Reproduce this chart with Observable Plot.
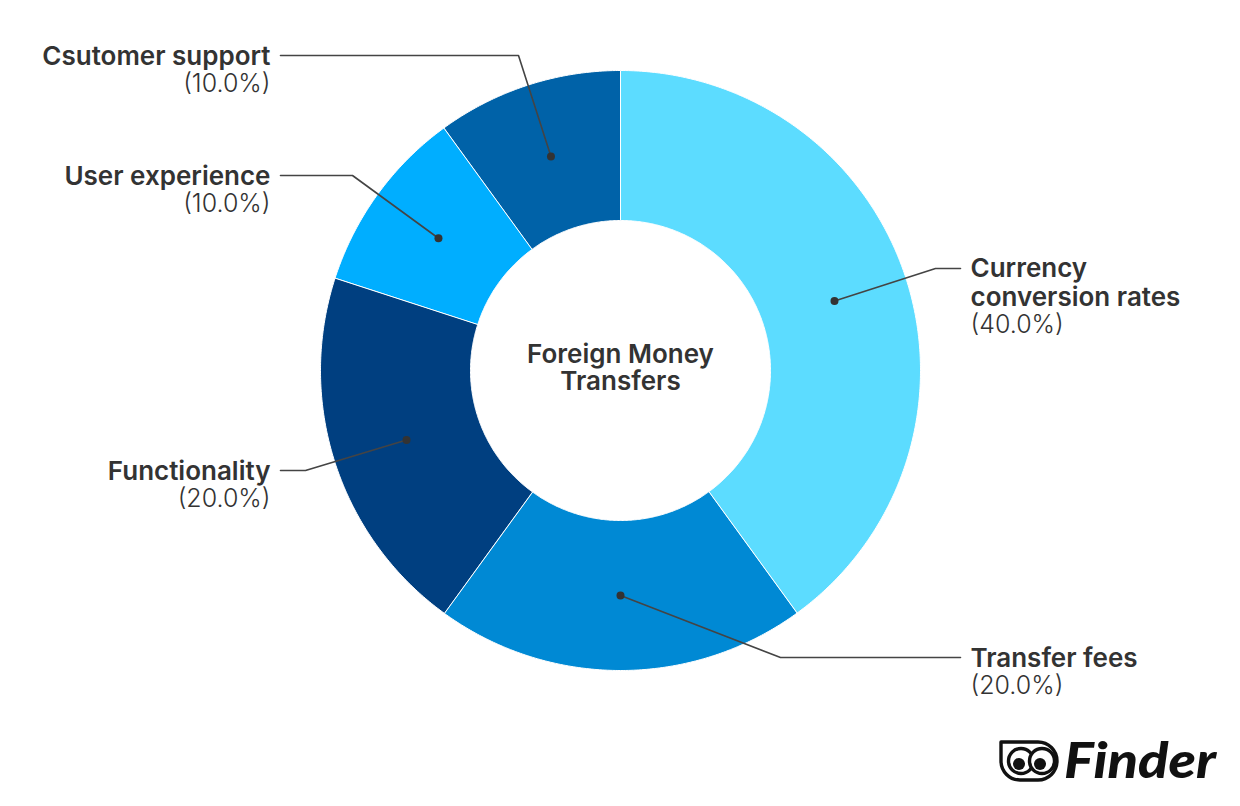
<!DOCTYPE html>
<html>
<head>
<meta charset="utf-8">
<script src="https://cdn.jsdelivr.net/npm/d3@7"></script>
<script src="https://cdn.jsdelivr.net/npm/@observablehq/plot@0.6"></script>
<style>
  html, body { margin: 0; padding: 0; background: #fff; }
  #wrap { position: relative; width: 1240px; height: 806px; overflow: hidden; }
  #logo { position: absolute; left: 996px; top: 734px; overflow: visible; }
  #logoText { position: absolute; left: 1064px; top: 731px; font-family: Lato, sans-serif; font-weight: 900; font-style: italic; font-size: 50px; line-height: 56px; color: #111; letter-spacing: 0px; transform: scaleX(1.12); transform-origin: left top; white-space: nowrap; }
</style>
</head>
<body>
<div id="wrap">
  <div id="chart"></div>
  <svg id="logo" width="62" height="52" viewBox="0 0 62 52">
    <path d="M5 8 H42 A19 19 0 0 1 42 46 H24 A19 19 0 0 1 5 27 Z" fill="#fff" stroke="#111" stroke-width="3.4" stroke-linejoin="round"/>
    <circle cx="25" cy="27" r="12.5" fill="#fff" stroke="#111" stroke-width="3.4"/>
    <circle cx="46" cy="27" r="12.5" fill="#fff" stroke="#111" stroke-width="3.4"/>
    <circle cx="23" cy="30" r="6" fill="#111"/>
    <circle cx="44" cy="30" r="6" fill="#111"/>
  </svg>
  <div id="logoText">Finder</div>
</div>
<script>
// ---- data ----
const categories = ["Currency conversion rates", "Transfer fees", "Functionality", "User experience", "Csutomer support"];
const shares = [40, 20, 20, 10, 10];
const labelNames = ["Currency\nconversion rates", "Transfer fees", "Functionality", "User experience", "Csutomer support"];
const percentLabels = ["(40.0%)", "(20.0%)", "(20.0%)", "(10.0%)", "(10.0%)"];
const sliceColors = ["#5cdcff", "#0089d4", "#003f80", "#00aeff", "#0062a8"];
const centerTitle = "Foreign Money\nTransfers";

// ---- layout (positions relative to donut centre, y downward) ----
const R_OUT = 300, R_IN = 150, R_DOT = 225;
const labelSide = ["right", "right", "left", "left", "left"];
const labelElbow = [[315, -102], [160, 287], [-315, 100], [-268, -195], [-102, -315]];
const labelRow = [-102, 287, 100, -195, -315];

const total = d3.sum(shares);
let acc = 0;
const slices = categories.map((c, i) => {
  const a0 = acc / total * 2 * Math.PI;
  acc += shares[i];
  const a1 = acc / total * 2 * Math.PI;
  return {category: c, value: shares[i], a0, a1, mid: (a0 + a1) / 2, color: sliceColors[i]};
});
const pt = (r, a) => [r * Math.sin(a), -r * Math.cos(a)];

// slice polygons
const polys = [];
slices.forEach(s => {
  const n = Math.max(2, Math.ceil((s.a1 - s.a0) / (Math.PI / 360)));
  for (let k = 0; k <= n; k++) {
    const [x, y] = pt(R_OUT, s.a0 + (s.a1 - s.a0) * k / n);
    polys.push({category: s.category, color: s.color, x, y});
  }
  for (let k = n; k >= 0; k--) {
    const [x, y] = pt(R_IN, s.a0 + (s.a1 - s.a0) * k / n);
    polys.push({category: s.category, color: s.color, x, y});
  }
});

// leader lines
const dots = slices.map(s => { const [x, y] = pt(R_DOT, s.mid); return {category: s.category, x, y}; });
const leaders = [];
slices.forEach((s, i) => {
  const end = labelSide[i] === "right" ? 340 : -340;
  leaders.push({category: s.category, x: dots[i].x, y: dots[i].y});
  leaders.push({category: s.category, x: labelElbow[i][0], y: labelElbow[i][1]});
  leaders.push({category: s.category, x: end, y: labelRow[i]});
});

const labels = slices.map((s, i) => {
  const right = labelSide[i] === "right";
  const twoLine = labelNames[i].includes("\n");
  return {
    side: labelSide[i],
    name: labelNames[i], pct: percentLabels[i],
    x: right ? 350 : -350,
    yName: labelRow[i] + (twoLine ? 14 : 0),
    yPct: labelRow[i] + (twoLine ? 56 : 28)
  };
});
const rightLabels = labels.filter(d => d.side === "right");
const leftLabels = labels.filter(d => d.side === "left");

const font = "Inter, 'Open Sans', sans-serif";
const nameStyle = {fontSize: 26, fontWeight: 600, fill: "#333", lineHeight: 1.08};
const pctStyle = {fontSize: 25, fontWeight: 300, fill: "#333"};
const chart = Plot.plot({
  width: 1240, height: 806,
  marginTop: 0, marginRight: 0, marginBottom: 0, marginLeft: 0,
  style: {fontFamily: font, background: "#fff"},
  x: {domain: [-620, 620], range: [0, 1240], axis: null},
  y: {domain: [-370, 436], range: [0, 806], axis: null},
  marks: [
    Plot.line(polys, {x: "x", y: "y", z: "category", fill: "color", stroke: "#fff", strokeWidth: 1, curve: "linear-closed"}),
    Plot.line(leaders, {x: "x", y: "y", z: "category", stroke: "#444", strokeWidth: 1.6}),
    Plot.dot(dots, {x: "x", y: "y", r: 4, fill: "#333", stroke: "none"}),
    Plot.text(rightLabels, {x: "x", y: "yName", text: "name", textAnchor: "start", ...nameStyle}),
    Plot.text(leftLabels, {x: "x", y: "yName", text: "name", textAnchor: "end", ...nameStyle}),
    Plot.text(rightLabels, {x: "x", y: "yPct", text: "pct", textAnchor: "start", ...pctStyle}),
    Plot.text(leftLabels, {x: "x", y: "yPct", text: "pct", textAnchor: "end", ...pctStyle}),
    Plot.text([centerTitle], {x: 0, y: -2.5, text: d => d, fontSize: 26, fontWeight: 600, fill: "#333", lineHeight: 1.04})
  ]
});
document.getElementById("chart").appendChild(chart);
</script>
</body>
</html>
